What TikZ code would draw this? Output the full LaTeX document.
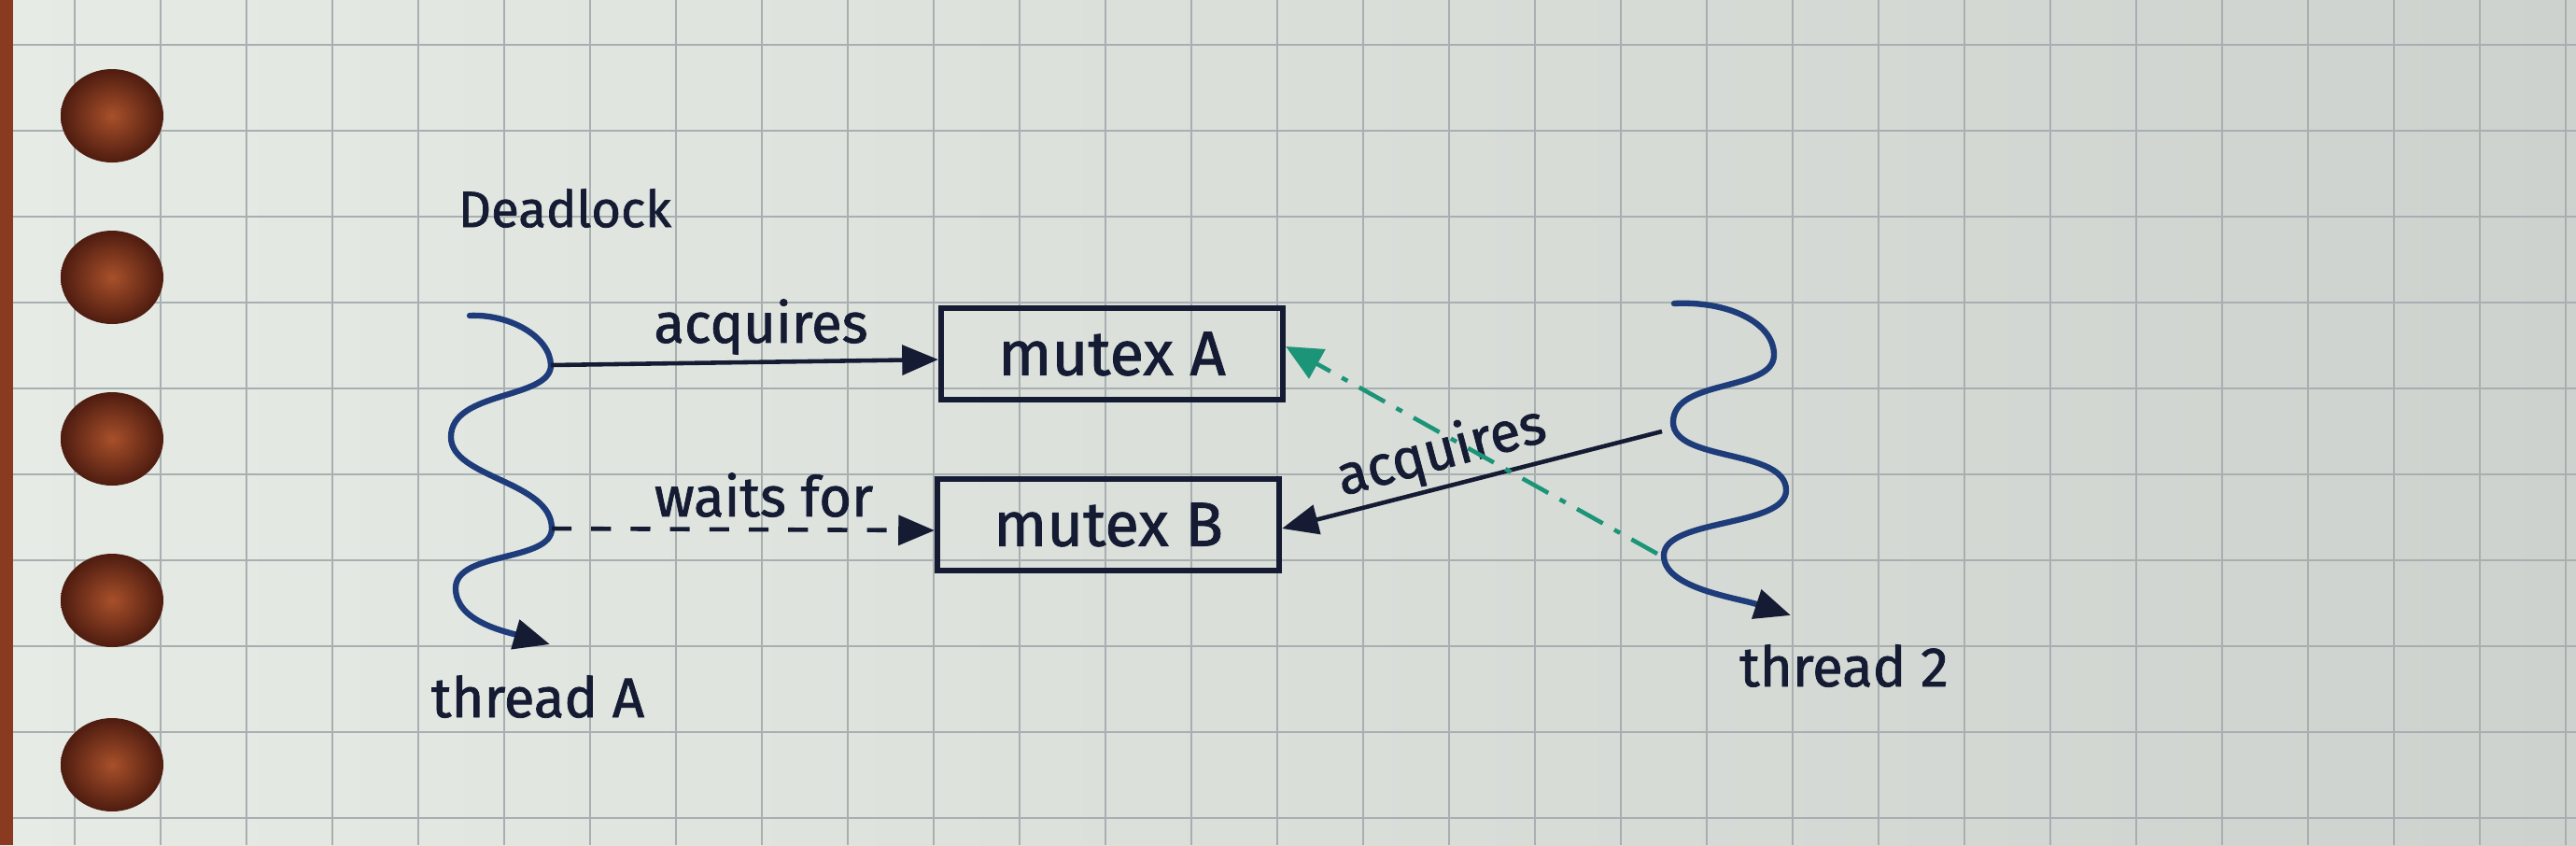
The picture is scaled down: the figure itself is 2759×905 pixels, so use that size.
\documentclass[tikz,border=0pt]{standalone}
\usepackage{fontspec}
\setmainfont{Fira Sans}
\newfontfamily\handfont{Fira Sans}[FakeBold=1.3]
\usetikzlibrary{arrows.meta}
\definecolor{paper}{HTML}{E6EBE5}
\definecolor{paperdark}{HTML}{CDD2CE}
\definecolor{gridc}{HTML}{A8AFB1}
\definecolor{ink}{HTML}{141B33}
\definecolor{waveblue}{HTML}{1E3C7A}
\definecolor{tealink}{HTML}{1C9478}
\definecolor{holein}{HTML}{A8502A}
\definecolor{holeout}{HTML}{4E1C10}
\definecolor{edgebrown}{HTML}{8A3A20}
\tikzset{
  gridline/.style={draw=gridc, line width=0.6pt},
  hand/.style={text=ink, font=\handfont\fontsize{17}{20}\selectfont, inner sep=0pt},
  mbox/.style={draw=ink, line width=1.7pt, minimum width=3.66cm, minimum height=0.97cm, inner sep=0pt, text=ink, font=\handfont\fontsize{19}{22}\selectfont},
  wavy/.style={draw=waveblue, line width=1.8pt, line cap=round, -{Triangle[length=11pt,width=9pt,color=ink]}},
  inkarrow/.style={draw=ink, line width=1.3pt, -{Triangle[length=11pt,width=9pt]}},
  dasharrow/.style={inkarrow, dash pattern=on 6pt off 6pt},
  tealarrow/.style={draw=tealink, line width=1.3pt, dash pattern=on 9pt off 4pt on 2pt off 4pt, -{Triangle[length=11pt,width=10pt]}}
}
\begin{document}
\begin{tikzpicture}[x=0.01cm,y=-0.01cm]
\useasboundingbox (0,0) rectangle (2759,905);
% paper
\shade[left color=paper, right color=paperdark] (0,0) rectangle (2759,905);
\foreach \i in {0,...,29} \draw[gridline] ({80+92*\i},0) -- ({80+92*\i},905);
\foreach \j in {0,...,9} \draw[gridline] (0,{48+92*\j}) -- (2759,{48+92*\j});
\fill[edgebrown] (0,0) rectangle (14,905);
\foreach \hy in {124,297,470,643,819}
  \shade[inner color=holein, outer color=holeout] (120,\hy) ellipse [x radius=55, y radius=50];

% title
\node[hand, font=\handfont\fontsize{15.5}{18}\selectfont] (title) at (605,223) {Deadlock};

% mutex boxes
\node[mbox] (A) at (1191,379) {mutex A};
\node[mbox] (B) at (1187,562) {mutex B};

% thread A
\coordinate (a1) at (590,391);
\coordinate (a2) at (591,566);
\draw[wavy] (503,338) .. controls (545,336) and (589,360) .. (a1)
  .. controls (590,428) and (483,418) .. (483,468)
  .. controls (483,512) and (591,515) .. (a2)
  .. controls (591,602) and (488,590) .. (488,630)
  .. controls (488,665) and (540,676) .. (589,690);
\node[hand] (threadA) at (576,746) {thread A};

% thread 2
\draw[wavy] (1793,325) .. controls (1850,322) and (1900,345) .. (1900,380)
  .. controls (1900,420) and (1792,405) .. (1792,452)
  .. controls (1792,495) and (1913,480) .. (1913,525)
  .. controls (1913,565) and (1782,555) .. (1782,595)
  .. controls (1782,630) and (1860,640) .. (1918,659);
\coordinate (t1) at (1780,462);
\coordinate (t2) at (1775,593);
\node[hand] (thread2) at (1975,713) {thread 2};

% connectors
\draw[inkarrow] (a1) -- ([yshift=-0.06cm]A.west);
\node[hand] (acq1) at (815,350) {acquires};
\draw[dasharrow] (a2) -- ([yshift=-0.06cm]B.west);
\node[hand] (wait) at (818,530) {waits for};
\draw[inkarrow] (t1) -- ([yshift=-0.04cm]B.east);
\node[hand, rotate=15] (acq2) at (1544,485) {acquires};
\draw[tealarrow] (t2) -- ([yshift=0.08cm]A.east);
\end{tikzpicture}
\end{document}
